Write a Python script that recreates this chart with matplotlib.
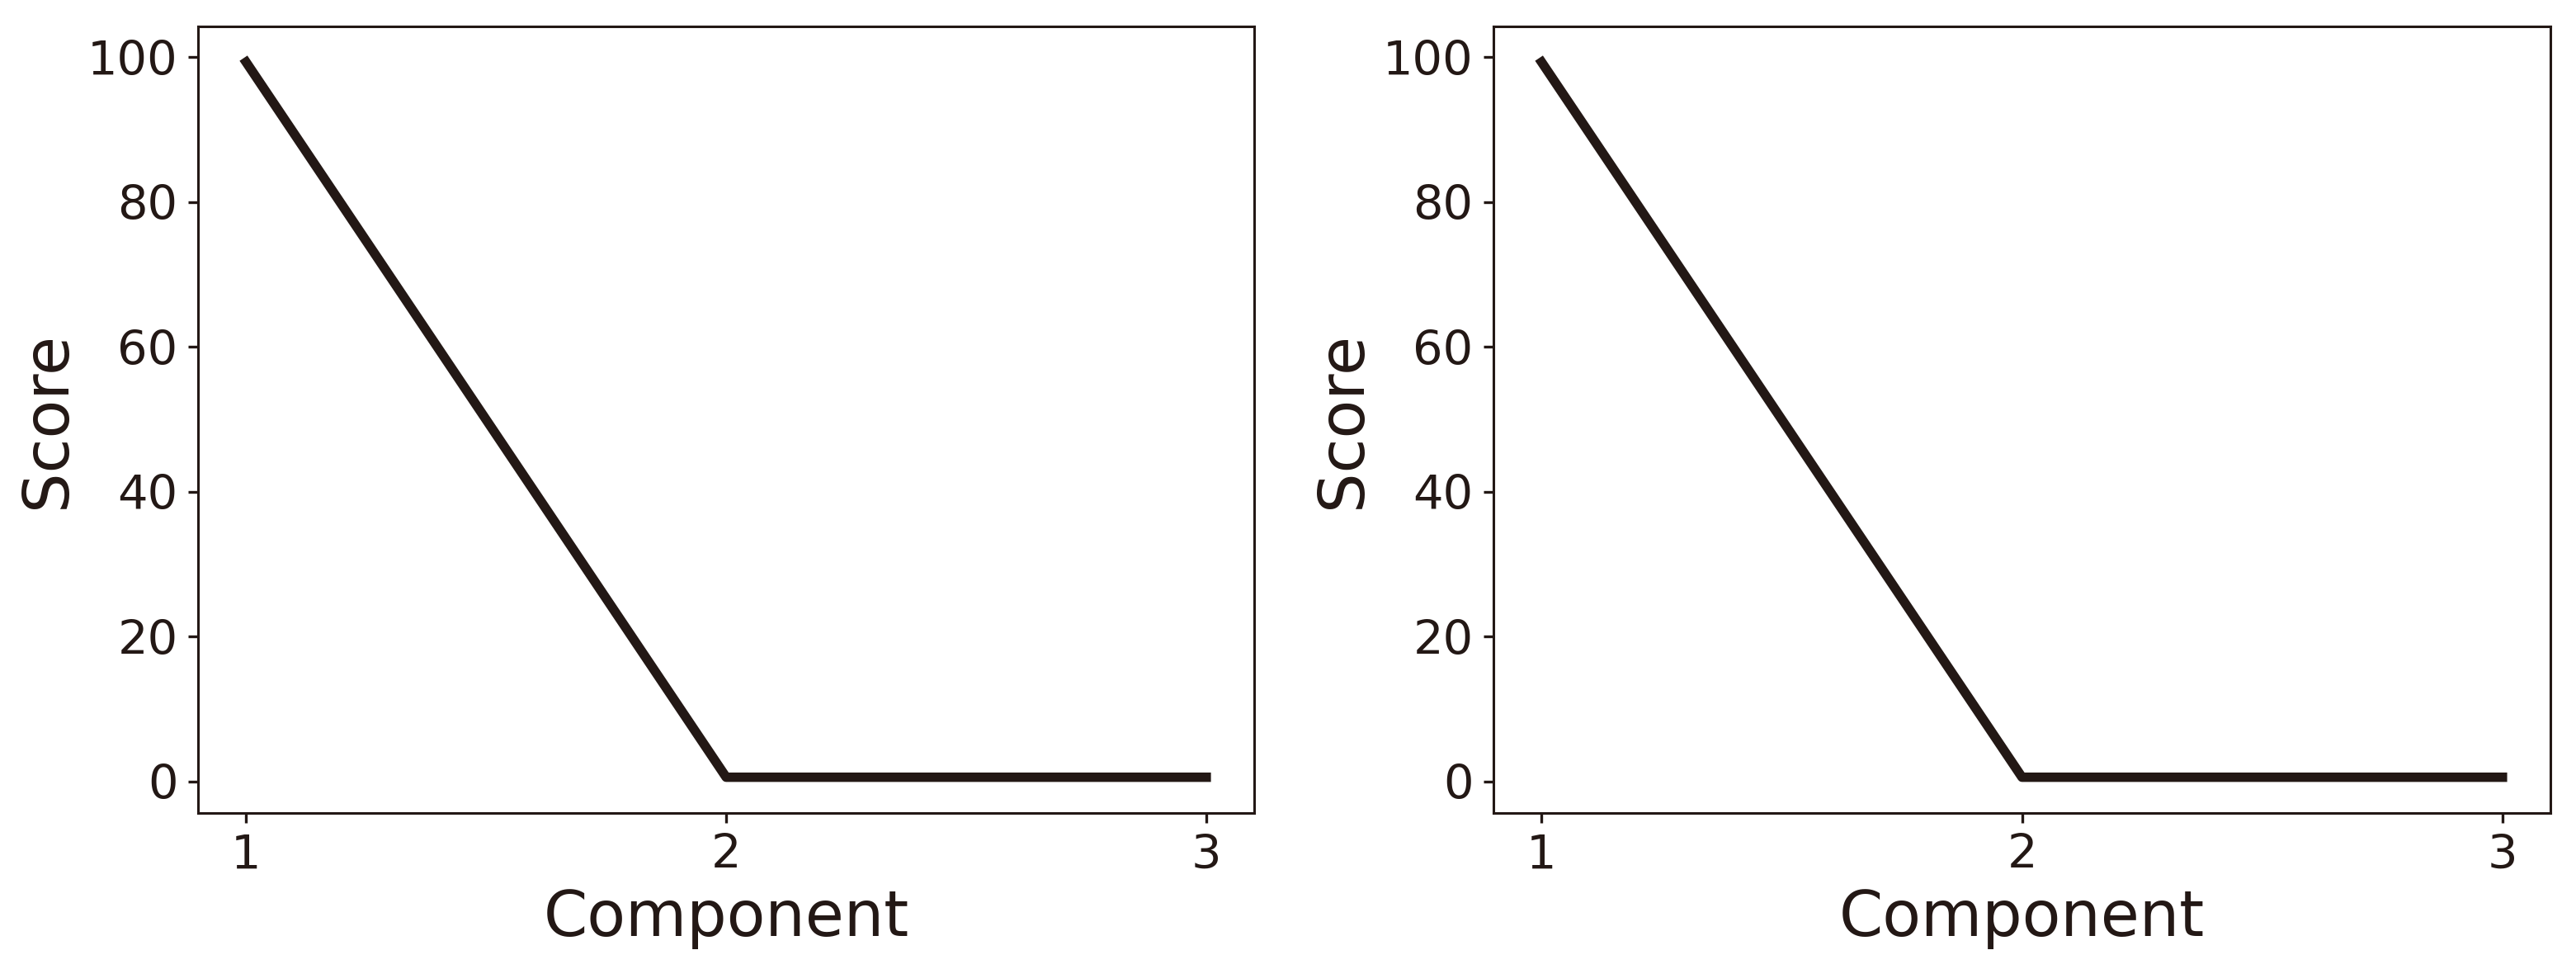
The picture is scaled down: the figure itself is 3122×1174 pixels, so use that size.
import matplotlib
matplotlib.use("Agg")
import matplotlib.pyplot as plt

# data (both panels show the same curve)
components = [1, 2, 3]
scores_left = [99.3, 0.6, 0.6]
scores_right = [99.3, 0.6, 0.6]

INK = "#231815"

plt.rcParams["font.family"] = ["DejaVu Sans"]

fig = plt.figure(figsize=(15.61, 5.87), dpi=200)
ax1 = fig.add_axes([0.0769, 0.1610, 0.4100, 0.8118])
ax2 = fig.add_axes([0.5798, 0.1610, 0.4103, 0.8118])

for ax, ys in ((ax1, scores_left), (ax2, scores_right)):
    ax.plot(components, ys, color=INK, linewidth=4.1)
    ax.set_xticks(components)
    ax.set_yticks([0, 20, 40, 60, 80, 100])
    ax.set_xlabel("Component", fontsize=27.5, color=INK, labelpad=4)
    ax.set_ylabel("Score", fontsize=27.5, color=INK, labelpad=4)
    ax.tick_params(labelsize=20.7, colors=INK, width=1.2, length=4.3, pad=4.5)
    for s in ax.spines.values():
        s.set_linewidth(1.1)
        s.set_color(INK)

fig.savefig("out.png", dpi=200)
